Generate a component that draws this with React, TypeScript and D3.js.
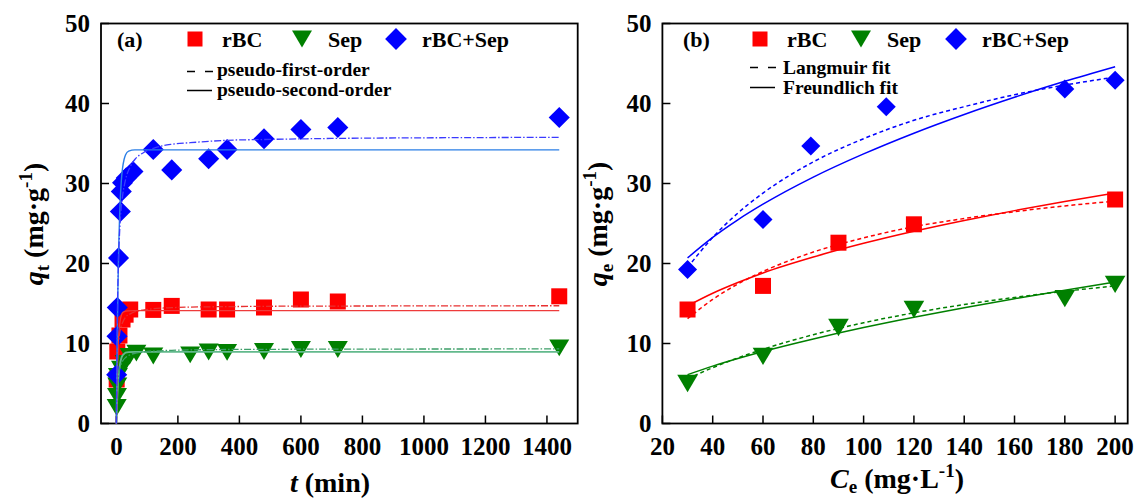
import React, { useEffect, useRef } from 'react';
import * as d3 from 'd3';

// ---------- panel (a): adsorption kinetics ----------
const tRBC = [1, 3, 10, 20, 30, 45, 120, 180, 300, 360, 480, 600, 720, 1440];
const qRBC = [5.5, 9.0, 11.0, 13.0, 13.6, 14.25, 14.2, 14.7, 14.25, 14.25, 14.5, 15.5, 15.25, 15.9];
const tSep = [1, 2, 3, 5, 15, 27, 43, 65, 120, 240, 300, 360, 480, 600, 720, 1440];
const qSep = [2.0, 3.4, 4.7, 5.9, 6.8, 7.5, 8.4, 8.8, 8.44, 8.58, 8.94, 8.9, 9.0, 9.25, 9.25, 9.46];
const tMix = [1, 2, 3, 7, 13, 16, 20, 32, 54, 120, 180, 300, 360, 480, 600, 720, 1440];
const qMix = [6.1, 10.9, 14.5, 20.7, 26.5, 29.0, 30.1, 30.7, 31.5, 34.25, 31.7, 33.1, 34.25, 35.6, 36.75, 37.0, 38.25];

// fitted curves
const fitT1 = [0, 2, 5, 8, 12, 16, 20, 25, 30, 40, 60, 100, 1440];
const fit1RBC = [0, 4.65, 8.9, 11.3, 12.8, 13.5, 13.85, 13.98, 14.05, 14.08, 14.1, 14.1, 14.1];
const fit1Sep = [0, 2.3, 4.7, 6.26, 7.47, 8.14, 8.5, 8.7, 8.85, 8.92, 8.95, 8.95, 8.95];
const fit1Mix = [0, 8.1, 16.8, 22.6, 27.4, 30.3, 31.9, 33.0, 33.6, 34.05, 34.2, 34.2, 34.2];
const fitT2 = [0, 2, 5, 10, 15, 20, 30, 45, 60, 90, 120, 180, 240, 360, 480, 720, 1000, 1440];
const fit2RBC = [0, 5.5, 8.85, 11.1, 12.1, 12.6, 13.3, 13.7, 13.97, 14.2, 14.35, 14.48, 14.55, 14.61, 14.65, 14.68, 14.7, 14.72];
const fit2Sep = [0, 3.1, 5.2, 6.7, 7.4, 7.8, 8.25, 8.59, 8.77, 8.95, 9.05, 9.15, 9.2, 9.25, 9.27, 9.3, 9.31, 9.32];
const fit2Mix = [0, 9.9, 17.5, 23.5, 26.7, 28.4, 30.5, 32.1, 33.0, 33.9, 34.4, 34.9, 35.1, 35.4, 35.5, 35.64, 35.71, 35.77];

// ---------- panel (b): isotherms ----------
const ceRBC = [30, 60, 90, 120, 200];
const qeRBC = [14.25, 17.2, 22.6, 24.9, 28.0];
const ceSep = [30, 60, 90, 120, 180, 200];
const qeSep = [5.0, 8.4, 12.0, 14.25, 15.6, 17.4];
const ceMix = [30, 60, 79, 109, 180, 200];
const qeMix = [19.25, 25.5, 34.7, 39.6, 41.8, 42.9];

const fitCe = [30, 40, 50, 60, 80, 100, 120, 140, 160, 180, 200];
const langRBC = [13.1, 15.51, 17.44, 19.0, 21.43, 23.2, 24.6, 25.62, 26.48, 27.2, 27.8];
const freuRBC = [14.7, 16.28, 17.62, 18.82, 20.81, 22.52, 24.03, 25.38, 26.61, 27.75, 28.8];
const langSep = [5.6, 6.98, 8.2, 9.28, 11.1, 12.59, 13.83, 14.87, 15.76, 16.53, 17.2];
const freuSep = [6.1, 7.17, 8.12, 9.0, 10.57, 11.99, 13.28, 14.48, 15.6, 16.67, 17.68];
const langMix = [19.5, 23.26, 26.3, 28.8, 32.7, 35.6, 37.9, 39.6, 41.1, 42.3, 43.3];
const freuMix = [20.7, 23.26, 25.46, 27.41, 30.8, 33.7, 36.29, 38.63, 40.78, 42.77, 44.6];

const xTicksA = [0, 200, 400, 600, 800, 1000, 1200, 1400];
const xTicksB = [20, 40, 60, 80, 100, 120, 140, 160, 180, 200];
const yTicks = [0, 10, 20, 30, 40, 50];

const FONT = '"Liberation Serif", "Times New Roman", serif';
const RED = '#ff0000', GREEN = '#008000', BLUE = '#0000ff';

const zip = (xs: number[], ys: number[]) => xs.map((x, i) => [x, ys[i]] as [number, number]);

function marker(g: any, kind: string, cx: number, cy: number, s: number, color: string) {
  if (kind === 'square') {
    g.append('rect').attr('x', cx - s / 2).attr('y', cy - s / 2)
      .attr('width', s).attr('height', s).attr('fill', color);
  } else if (kind === 'tri') {
    const w = s * 1.25, h = s * 1.05;
    g.append('path')
      .attr('d', `M${cx - w / 2},${cy - h / 2}L${cx + w / 2},${cy - h / 2}L${cx},${cy + h / 2}Z`)
      .attr('fill', color);
  } else {
    const r = s * 0.68;
    g.append('path')
      .attr('d', `M${cx},${cy - r}L${cx + r},${cy}L${cx},${cy + r}L${cx - r},${cy}Z`)
      .attr('fill', color);
  }
}

const App = () => {
  const ref = useRef<SVGSVGElement>(null);

  useEffect(() => {
    const svg = d3.select(ref.current);
    svg.selectAll('*').remove();

    const top = 23.5, bottom = 423.5;

    function frame(x: any, y: any, left: number, right: number, xTicks: number[]) {
      const g = svg.append('g');
      // inward ticks
      yTicks.forEach(v => {
        g.append('line').attr('x1', left).attr('x2', left + 8).attr('y1', y(v)).attr('y2', y(v))
          .attr('stroke', '#000').attr('stroke-width', 1.5);
        g.append('text').attr('x', left - 11).attr('y', y(v) + 8.5)
          .attr('text-anchor', 'end').attr('font-family', FONT).attr('font-weight', 'bold')
          .attr('font-size', 25).text(v);
      });
      xTicks.forEach(v => {
        g.append('line').attr('x1', x(v)).attr('x2', x(v)).attr('y1', bottom).attr('y2', bottom - 8)
          .attr('stroke', '#000').attr('stroke-width', 1.5);
        g.append('text').attr('x', x(v)).attr('y', 455)
          .attr('text-anchor', 'middle').attr('font-family', FONT).attr('font-weight', 'bold')
          .attr('font-size', 25).text(v);
      });
      g.append('rect').attr('x', left).attr('y', top).attr('width', right - left).attr('height', bottom - top)
        .attr('fill', 'none').attr('stroke', '#000').attr('stroke-width', 1.8);
    }

    function legend(items: { kind: string, color: string, label: string, mx: number, tx: number }[], tag: string, tagX: number) {
      const g = svg.append('g').attr('font-family', FONT).attr('font-weight', 'bold');
      g.append('text').attr('x', tagX).attr('y', 47).attr('font-size', 22).text(tag);
      items.forEach(it => {
        marker(g, it.kind, it.mx, 39, it.kind === 'square' ? 15 : 16, it.color);
        g.append('text').attr('x', it.tx).attr('y', 47).attr('font-size', 22).text(it.label);
      });
      return g;
    }

    // ================= panel (a) =================
    const xA = d3.scaleLinear().domain([-50, 1500]).range([101, 577.7]);
    const yA = d3.scaleLinear().domain([0, 50]).range([bottom, top]);
    frame(xA, yA, 101, 577.7, xTicksA);

    const lineA = d3.line<[number, number]>().x(d => xA(d[0])).y(d => yA(d[1])).curve(d3.curveMonotoneX);
    const ptsA = svg.append('g');
    zip(tRBC, qRBC).forEach(d => marker(ptsA, 'square', xA(d[0]), yA(d[1]), 16, RED));
    zip(tSep, qSep).forEach(d => marker(ptsA, 'tri', xA(d[0]), yA(d[1]), 16, GREEN));
    zip(tMix, qMix).forEach(d => marker(ptsA, 'diamond', xA(d[0]), yA(d[1]), 15.5, BLUE));

    const fitsA = [
      { t: fitT1, q: fit1Sep, c: '#62b98c', dash: null, w: 1.8 },
      { t: fitT2, q: fit2Sep, c: '#3d9e68', dash: '7,2,1.5,2', w: 1.3 },
      { t: fitT1, q: fit1RBC, c: '#ee3b3b', dash: null, w: 1.3 },
      { t: fitT2, q: fit2RBC, c: '#e83030', dash: '7,2,1.5,2', w: 1.3 },
      { t: fitT1, q: fit1Mix, c: '#2b7fe6', dash: null, w: 1.4 },
      { t: fitT2, q: fit2Mix, c: '#3a3aff', dash: '7,2,1.5,2', w: 1.3 },
    ];
    fitsA.forEach(f => {
      svg.append('path').attr('d', lineA(zip(f.t, f.q)))
        .attr('fill', 'none').attr('stroke', f.c).attr('stroke-width', f.w)
        .attr('stroke-dasharray', f.dash);
    });

    legend([
      { kind: 'square', color: RED, label: 'rBC', mx: 195, tx: 222 },
      { kind: 'tri', color: GREEN, label: 'Sep', mx: 302, tx: 328 },
      { kind: 'diamond', color: BLUE, label: 'rBC+Sep', mx: 396, tx: 422 },
    ], '(a)', 117);
    const la = svg.append('g').attr('font-family', FONT).attr('font-weight', 'bold').attr('font-size', 19.5);
    la.append('line').attr('x1', 187).attr('x2', 213).attr('y1', 71.5).attr('y2', 71.5)
      .attr('stroke', '#000').attr('stroke-width', 1.5).attr('stroke-dasharray', '8,10');
    la.append('text').attr('x', 217).attr('y', 76).text('pseudo-first-order');
    la.append('line').attr('x1', 187).attr('x2', 212).attr('y1', 90.5).attr('y2', 90.5)
      .attr('stroke', '#000').attr('stroke-width', 1.5);
    la.append('text').attr('x', 217).attr('y', 96).text('pseudo-second-order');

    // axis titles (a)
    const xtA = svg.append('text').attr('x', 330).attr('y', 492).attr('text-anchor', 'middle')
      .attr('font-family', FONT).attr('font-weight', 'bold').attr('font-size', 28);
    xtA.append('tspan').attr('font-style', 'italic').text('t');
    xtA.append('tspan').text(' (min)');

    const ytA = svg.append('text').attr('transform', 'translate(43,224) rotate(-90)').attr('text-anchor', 'middle')
      .attr('font-family', FONT).attr('font-weight', 'bold').attr('font-size', 28);
    ytA.append('tspan').attr('font-style', 'italic').text('q');
    ytA.append('tspan').attr('font-size', 19).attr('dy', 6).text('t');
    ytA.append('tspan').attr('dy', -6).text(' (mg·g');
    ytA.append('tspan').attr('font-size', 19).attr('dy', -11).text('-1');
    ytA.append('tspan').attr('dy', 11).text(')');

    // ================= panel (b) =================
    const xB = d3.scaleLinear().domain([20, 205]).range([662.4, 1127.7]);
    const yB = d3.scaleLinear().domain([0, 50]).range([bottom, top]);
    frame(xB, yB, 662.4, 1127.7, xTicksB);

    const lineB = d3.line<[number, number]>().x(d => xB(d[0])).y(d => yB(d[1])).curve(d3.curveMonotoneX);
    const ptsB = svg.append('g');
    zip(ceRBC, qeRBC).forEach(d => marker(ptsB, 'square', xB(d[0]), yB(d[1]), 16, RED));
    zip(ceSep, qeSep).forEach(d => marker(ptsB, 'tri', xB(d[0]), yB(d[1]), 16.5, GREEN));
    zip(ceMix, qeMix).forEach(d => marker(ptsB, 'diamond', xB(d[0]), yB(d[1]), 14, BLUE));

    const fitsB = [
      { q: langSep, c: GREEN, dash: '4,3' }, { q: freuSep, c: GREEN, dash: null },
      { q: langRBC, c: RED, dash: '4,3' }, { q: freuRBC, c: RED, dash: null },
      { q: langMix, c: BLUE, dash: '4,3' }, { q: freuMix, c: BLUE, dash: null },
    ];
    fitsB.forEach(f => {
      svg.append('path').attr('d', lineB(zip(fitCe, f.q)))
        .attr('fill', 'none').attr('stroke', f.c).attr('stroke-width', 1.5)
        .attr('stroke-dasharray', f.dash);
    });

    legend([
      { kind: 'square', color: RED, label: 'rBC', mx: 760, tx: 787 },
      { kind: 'tri', color: GREEN, label: 'Sep', mx: 861, tx: 887 },
      { kind: 'diamond', color: BLUE, label: 'rBC+Sep', mx: 956, tx: 982 },
    ], '(b)', 683);
    const lb = svg.append('g').attr('font-family', FONT).attr('font-weight', 'bold').attr('font-size', 19.5);
    lb.append('line').attr('x1', 750).attr('x2', 776).attr('y1', 67.5).attr('y2', 67.5)
      .attr('stroke', '#000').attr('stroke-width', 1.5).attr('stroke-dasharray', '8,10');
    lb.append('text').attr('x', 783).attr('y', 74).text('Langmuir fit');
    lb.append('line').attr('x1', 750).attr('x2', 775).attr('y1', 87.5).attr('y2', 87.5)
      .attr('stroke', '#000').attr('stroke-width', 1.5);
    lb.append('text').attr('x', 783).attr('y', 94).text('Freundlich fit');

    const xtB = svg.append('text').attr('x', 897).attr('y', 488).attr('text-anchor', 'middle')
      .attr('font-family', FONT).attr('font-weight', 'bold').attr('font-size', 28);
    xtB.append('tspan').attr('font-style', 'italic').text('C');
    xtB.append('tspan').attr('font-size', 19).attr('dy', 5).text('e');
    xtB.append('tspan').attr('dy', -5).text(' (mg·L');
    xtB.append('tspan').attr('font-size', 19).attr('dy', -11).text('-1');
    xtB.append('tspan').attr('dy', 11).text(')');

    const ytB = svg.append('text').attr('transform', 'translate(607,224) rotate(-90)').attr('text-anchor', 'middle')
      .attr('font-family', FONT).attr('font-weight', 'bold').attr('font-size', 28);
    ytB.append('tspan').attr('font-style', 'italic').text('q');
    ytB.append('tspan').attr('font-size', 19).attr('dy', 6).text('e');
    ytB.append('tspan').attr('dy', -6).text(' (mg·g');
    ytB.append('tspan').attr('font-size', 19).attr('dy', -11).text('-1');
    ytB.append('tspan').attr('dy', 11).text(')');
  }, []);

  return (
    <svg ref={ref} width={1134} height={498}
      style={{ position: 'absolute', left: 0, top: 0, background: '#fff' }} />
  );
};

export default App;
